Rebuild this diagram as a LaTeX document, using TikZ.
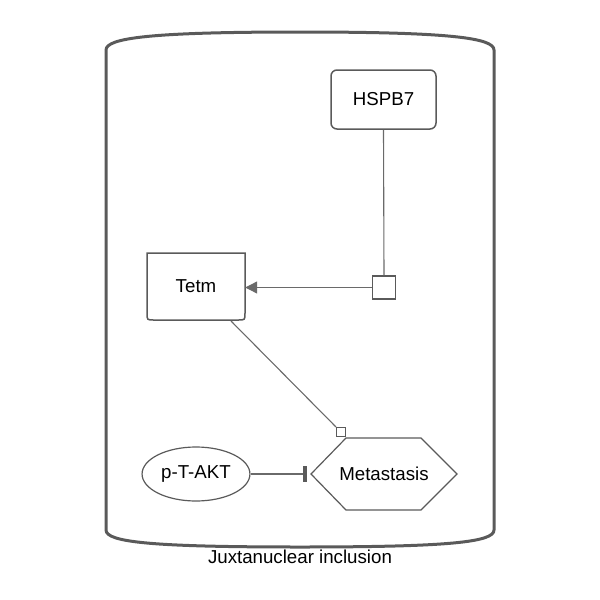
\documentclass[tikz,border=0pt]{standalone}
\usepackage{fontspec}
\setmainfont{Liberation Sans}
\usetikzlibrary{shapes.geometric,arrows.meta}
\definecolor{edge}{HTML}{5A5A5A}
\definecolor{lne}{HTML}{6A6A6A}
\tikzset{
  txt/.style={font=\fontsize{18.7}{22}\selectfont},
  rbox/.style={draw=edge, line width=1.5pt, rounded corners=6pt, minimum width=105pt, minimum height=59pt, txt},
  ell/.style={draw=edge, line width=1.2pt, ellipse, minimum width=105pt, minimum height=54pt, txt},
  sq/.style={draw=edge, line width=1.2pt, fill=white, inner sep=0pt},
  conn/.style={draw=lne, line width=1.1pt},
}
\begin{document}
\begin{tikzpicture}[x=1pt,y=-1pt]
\useasboundingbox (0,0) rectangle (600,600);
% compartment
\draw[draw=edge, line width=3pt]
  (106,530) -- (106,50) .. controls (106,38) and (150,32) .. (300,32)
  .. controls (450,32) and (494,38) .. (494,50) -- (494,530)
  .. controls (494,542) and (450,547) .. (300,547)
  .. controls (150,547) and (106,542) .. (106,530) -- cycle;
\node[txt] (lab) at (300,557) {Juxtanuclear inclusion};
% nodes
\node[rbox] (hspb) at (383.5,99.5) {HSPB7};
% Tetm: square top, rounded bottom
\draw[draw=edge, line width=1.5pt] (147,253) -- (245,253) -- (245,313)
  .. controls (245,320) .. (238,320) -- (154,320)
  .. controls (147,320) .. (147,313) -- cycle;
\node[txt, minimum width=98pt, minimum height=67pt] (tetm) at (196,286.5) {Tetm};
\node[sq, minimum size=23pt] (pq) at (384,287.5) {};
\node[ell] (akt) at (196,474) {p-T-AKT};
% hexagon
\draw[draw=edge, line width=1.2pt] (311,474) -- (346,438) -- (421,438) -- (457,474) -- (421,510) -- (346,510) -- cycle;
\node[txt, minimum width=146pt, minimum height=72pt] (meta) at (384,474) {Metastasis};
\node[sq, minimum size=9pt] (ms) at (341,432) {};
% connectors
\draw[conn] (hspb.south) -- (pq.north);
\draw[conn, -{Triangle[length=12pt,width=12pt]}, fill=edge] (pq.west) -- (tetm.east |- pq.west);
\draw[conn] (231,321) -- (ms.north west);
\draw[conn] (akt.east) -- (305,474);
\draw[draw=edge, line width=4pt] (305,466) -- (305,482);
\end{tikzpicture}
\end{document}
